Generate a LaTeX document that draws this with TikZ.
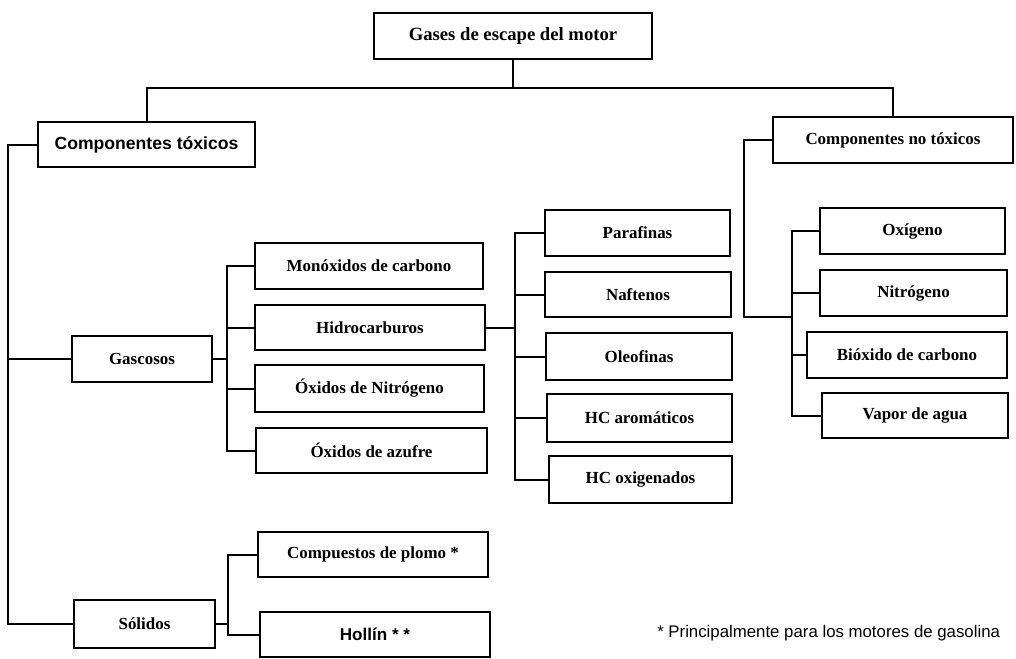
\documentclass[tikz,border=0pt]{standalone}
\usepackage{fontspec}
\setmainfont{Liberation Serif}
\setsansfont{Liberation Sans}
\newdimen\px \px=0.75pt
\begin{document}
\begin{tikzpicture}[x=0.75pt,y=-0.75pt,
  box/.style={draw,line width=1.5pt,inner sep=0pt,font=\bfseries\fontsize{12.7}{15}\selectfont},
  sbox/.style={box,font=\sffamily\bfseries\fontsize{12.8}{15}\selectfont},
  conn/.style={line width=1.5pt}]
\useasboundingbox (0,0) rectangle (1016,658);
% top level
\node[box,minimum width=278\px,minimum height=46\px,font=\bfseries\fontsize{14}{16}\selectfont] (top) at (513,36) {Gases de escape del motor};
\node[sbox,minimum width=217\px,minimum height=45\px,font=\sffamily\bfseries\fontsize{13.2}{15}\selectfont] (ctox) at (146.5,144.5) {Componentes tóxicos};
\node[box,minimum width=240\px,minimum height=46\px] (cnotox) at (893,140) {Componentes no tóxicos};
% toxic
\node[box,minimum width=140\px,minimum height=46\px] (gas) at (142,359) {Gascosos};
\node[box,minimum width=141\px,minimum height=48\px] (sol) at (144.5,624) {Sólidos};
\node[box,minimum width=228\px,minimum height=46\px] (mono) at (369,266) {Monóxidos de carbono};
\node[box,minimum width=230\px,minimum height=45\px] (hidro) at (370,327.5) {Hidrocarburos};
\node[box,minimum width=229\px,minimum height=47\px] (oxn) at (369.5,388.5) {Óxidos de Nitrógeno};
\node[box,minimum width=231\px,minimum height=45\px] (oxs) at (371.5,450.5) {Óxidos de azufre};
\node[box,minimum width=230\px,minimum height=45\px] (plomo) at (373,554.5) {Compuestos de plomo *};
\node[sbox,minimum width=230\px,minimum height=45\px] (hollin) at (375,634.5) {Hollín * *};
% hydrocarbons
\node[box,minimum width=185\px,minimum height=46\px] (paraf) at (637.5,233) {Parafinas};
\node[box,minimum width=186\px,minimum height=45\px] (naft) at (638,294.5) {Naftenos};
\node[box,minimum width=186\px,minimum height=47\px] (oleo) at (639,356.5) {Oleofinas};
\node[box,minimum width=185\px,minimum height=48\px] (arom) at (639.5,418) {HC aromáticos};
\node[box,minimum width=183\px,minimum height=47\px] (oxig) at (640.5,479.5) {HC oxigenados};
% non toxic
\node[box,minimum width=185\px,minimum height=46\px] (oxi) at (912.5,231) {Oxígeno};
\node[box,minimum width=187\px,minimum height=46\px] (nitro) at (913.5,293) {Nitrógeno};
\node[box,minimum width=200\px,minimum height=46\px] (biox) at (907,355) {Bióxido de carbono};
\node[box,minimum width=186\px,minimum height=45\px] (vapor) at (915,415.5) {Vapor de agua};
% footnote
\node[anchor=west,inner sep=0pt,font=\sffamily\fontsize{12.6}{15}\selectfont] (fn) at (657,633) {* Principalmente para los motores de gasolina};
% junction coordinates
\coordinate (topbus) at (513,88);
\coordinate (trunk) at (8,0);
\coordinate (gbus) at (227,0);
\coordinate (sbus) at (228,0);
\coordinate (hbus) at (515,0);
\coordinate (njoin) at (744,317);
\coordinate (vbus) at (792,0);
% connectors
\draw[conn] (top.south) -- (topbus);
\draw[conn] (ctox.north) |- (topbus) -| (cnotox.north);
\draw[conn] (ctox.west) -| (trunk |- gas.west) -- (gas.west);
\draw[conn] (trunk |- gas.west) |- (sol.west);
\draw[conn] (gas.east) -- (gbus |- gas.east);
\draw[conn] (mono.west) -| (gbus |- oxs.west) -- (oxs.west);
\draw[conn] (hidro.west) -- (gbus |- hidro.west);
\draw[conn] (oxn.west) -- (gbus |- oxn.west);
\draw[conn] (sol.east) -- (sbus |- sol.east);
\draw[conn] (plomo.west) -| (sbus |- hollin.west) -- (hollin.west);
\draw[conn] (hidro.east) -- (hbus |- hidro.east);
\draw[conn] (paraf.west) -| (hbus |- oxig.west) -- (oxig.west);
\draw[conn] (naft.west) -- (hbus |- naft.west);
\draw[conn] (oleo.west) -- (hbus |- oleo.west);
\draw[conn] (arom.west) -- (hbus |- arom.west);
\draw[conn] (cnotox.west) -| (njoin) -- (vbus |- njoin);
\draw[conn] (oxi.west) -| (vbus |- vapor.west) -- (vapor.west);
\draw[conn] (nitro.west) -- (vbus |- nitro.west);
\draw[conn] (biox.west) -- (vbus |- biox.west);
\end{tikzpicture}
\end{document}
